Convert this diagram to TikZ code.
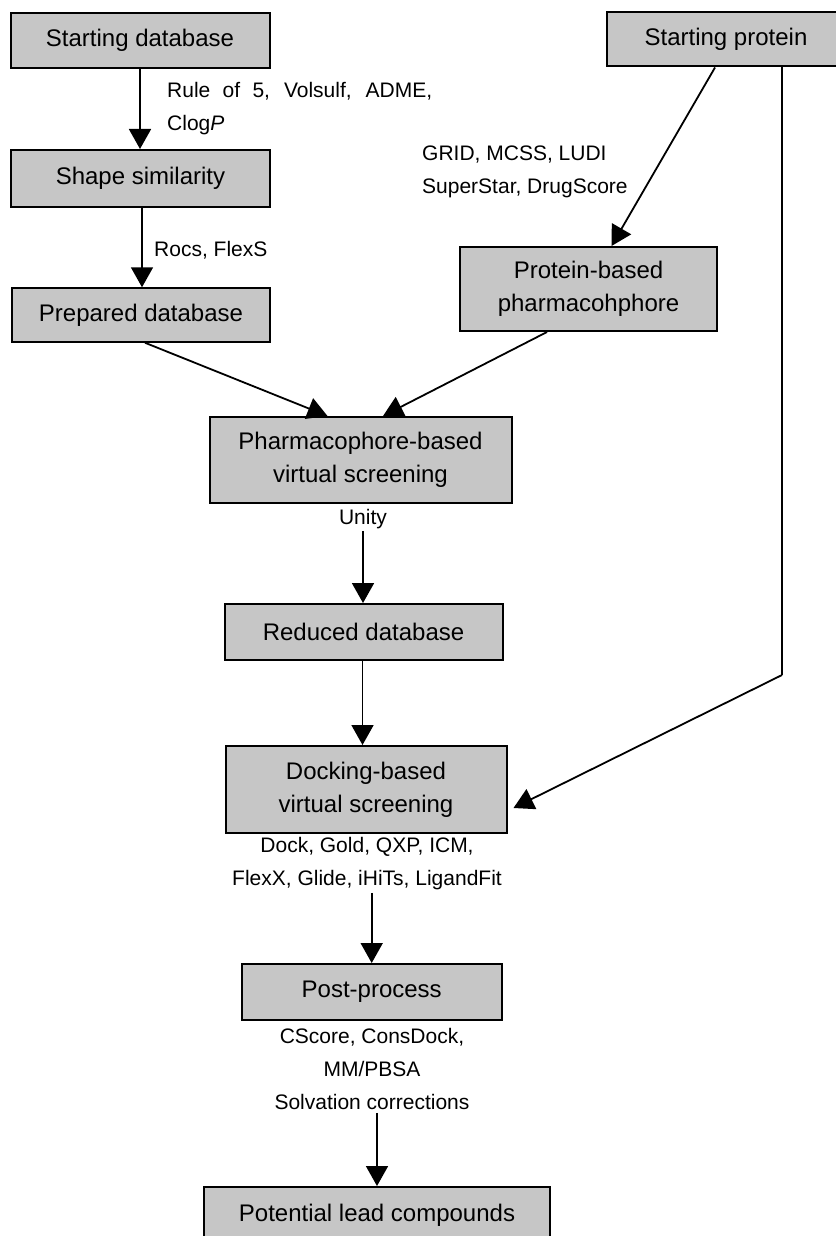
\documentclass[tikz,border=0pt]{standalone}
\usepackage{fontspec}
\setmainfont{Liberation Sans}
\usetikzlibrary{arrows.meta}
\definecolor{boxgray}{RGB}{198,198,198}
\begin{document}
\begin{tikzpicture}[x=1pt,y=-1pt,
  boxn/.style={draw=black, line width=2pt, fill=boxgray, inner sep=0pt, align=center,
    font=\fontsize{24}{33}\selectfont},
  lab/.style={inner sep=0pt, font=\fontsize{21}{33}\selectfont},
  conn/.style={line width=1.8pt, -{Triangle[width=22pt,length=20pt]}},
  plain/.style={line width=1.8pt}
]
\useasboundingbox[fill=white] (0,0) rectangle (835,1236);

% boxes
\node[boxn, minimum width=259pt, minimum height=55pt] (sdb) at (140,40.5) {Starting database};
\node[boxn, minimum width=259pt, minimum height=57pt] (shape) at (140.5,178.5) {Shape similarity};
\node[boxn, minimum width=258pt, minimum height=53.5pt] (prep) at (141,315) {Prepared database};
\node[boxn, minimum width=238pt, minimum height=54pt] (sprot) at (726,39.5) {Starting protein};
\node[boxn, minimum width=257pt, minimum height=84pt] (pbp) at (588.5,289) {Protein-based\\pharmacohphore};
\node[boxn, minimum width=302pt, minimum height=86pt] (pvs) at (360.5,460) {Pharmacophore-based\\virtual screening};
\node[boxn, minimum width=278pt, minimum height=56pt] (red) at (363.5,632) {Reduced database};
\node[boxn, minimum width=281pt, minimum height=87pt] (dock) at (366,789.5) {Docking-based\\virtual screening};
\node[boxn, minimum width=260pt, minimum height=56pt] (post) at (371.7,992) {Post-process};
\node[boxn, minimum width=346pt, minimum height=56pt] (lead) at (377,1215) {Potential lead compounds};

% labels
\node[lab, anchor=west, align=left] (l1) at (167,108.5)
  {\makebox[265pt][s]{Rule of 5, Volsulf, ADME,}\\Clog\textit{P}};
\node[lab, anchor=west] (l2) at (154,250) {Rocs, FlexS};
\node[lab, anchor=west, align=left] (l3) at (422,171.5) {GRID, MCSS, LUDI\\SuperStar, DrugScore};
\node[lab] (unity) at (363,519) {Unity};
\node[lab, align=center] (l5) at (367,863.5) {Dock, Gold, QXP, ICM,\\FlexX, Glide, iHiTs, LigandFit};
\node[lab, align=center] (l6) at (372,1069) {CScore, ConsDock,\\MM/PBSA\\Solvation corrections};

% connectors
\draw[conn] (sdb.south) -- (sdb.south |- shape.north);
\draw[conn] ([xshift=1.5pt]shape.south) -- ([xshift=1.5pt]shape.south |- prep.north);
\draw[conn] ([xshift=4pt]prep.south) -- ([xshift=-33pt]pvs.north);
\draw[conn] ([xshift=-41.5pt]pbp.south) -- ([xshift=22.5pt]pvs.north);
\draw[conn] ([xshift=-11pt]sprot.south) -- ([xshift=23pt]pbp.north);

\coordinate (a4) at ([yshift=-2pt]unity.south);
\draw[conn] (a4) -- (a4 |- red.north);
\draw[conn] ([xshift=-1pt]red.south) -- ([xshift=-1pt]red.south |- dock.north);
\coordinate (a5) at ([yshift=-3pt]l5.south);
\draw[conn] (a5 -| post.north) -- (post.north);
\coordinate (a6) at ([yshift=-3pt]l6.south);
\draw[conn] (a6 -| lead.north) -- (lead.north);

\coordinate (bend) at (782,675);
\coordinate (dockin) at ([shift={(6pt,-18.5pt)}]dock.east);
\draw[plain] (sprot.south -| bend) -- (bend);
\draw[conn] (bend) -- (dockin);
\end{tikzpicture}
\end{document}
